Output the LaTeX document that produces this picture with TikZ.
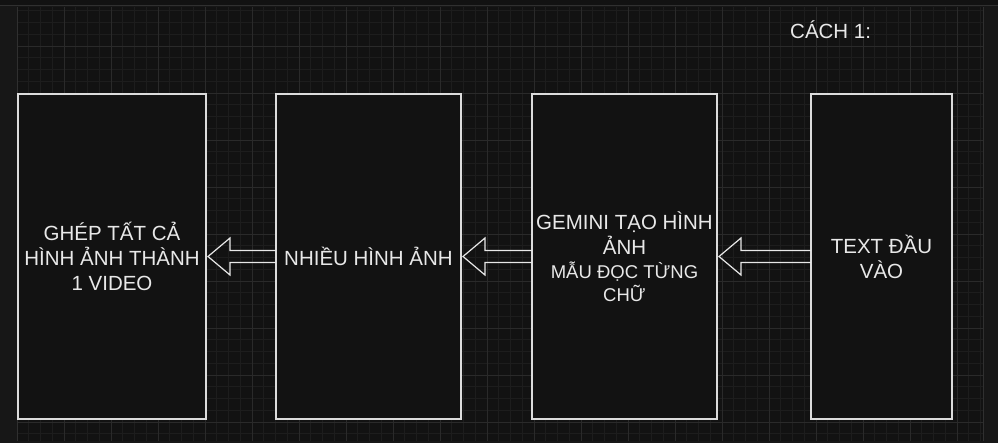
\documentclass[tikz,border=0pt]{standalone}
\usepackage{fontspec}
\setmainfont{Liberation Sans}
\usetikzlibrary{calc}
\definecolor{bgout}{HTML}{171717}
\definecolor{bgin}{HTML}{121212}
\definecolor{gminor}{HTML}{1D1D1D}
\definecolor{gmajor}{HTML}{2A2A2A}
\definecolor{gedge}{HTML}{303030}
\definecolor{fg}{HTML}{E8E8E8}
\definecolor{edge}{HTML}{DCDCDC}
\tikzset{
  stagebox/.style={draw=edge, line width=1.3pt, fill=bgin, minimum height=325pt,
    inner sep=0pt, outer sep=0pt, text=fg, align=center,
    font=\fontsize{20.5}{25}\selectfont},
  flexarrow/.style={draw=fg, line width=1.2pt, line join=miter},
  titletext/.style={text=fg, inner sep=0pt, font=\fontsize{20.5}{25}\selectfont},
}
\begin{document}
\begin{tikzpicture}[x=1pt,y=-1pt]
  \useasboundingbox (0,0) rectangle (998,443);
  % outer background
  \fill[bgout] (0,0) rectangle (998,443);
  \fill[bgin] (0,0) rectangle (998,6);
  \fill[bgin] (17,7) rectangle (983,441);
  % grid
  \begin{scope}
    \clip (17,7) rectangle (983,441);
    \foreach \i in {0,...,83} {
      \draw[gminor, line width=0.8pt] ({17+11.75*\i},7) -- ({17+11.75*\i},441);
    }
    \foreach \j in {0,...,38} {
      \draw[gminor, line width=0.8pt] (17,{-1+11.75*\j}) -- (983,{-1+11.75*\j});
    }
    \foreach \i in {0,...,21} {
      \draw[gmajor, line width=0.9pt] ({17+47*\i},7) -- ({17+47*\i},441);
    }
    \foreach \j in {0,...,10} {
      \draw[gmajor, line width=0.9pt] (17,{-1+47*\j}) -- (983,{-1+47*\j});
    }
  \end{scope}
  \draw[gedge, line width=1pt] (0,6) -- (998,6);
  \draw[gedge, line width=0.8pt] (17,7) -- (17,441);
  \draw[gedge, line width=0.8pt] (983,7) -- (983,441);

  % title
  \node[titletext, anchor=west] (title) at (790,30) {CÁCH 1:};

  % boxes
  \node[stagebox, minimum width=188pt] (b1) at (112,256.5)
    {GHÉP TẤT CẢ\\HÌNH ẢNH THÀNH\\1 VIDEO};
  \node[stagebox, minimum width=185pt] (b2) at (368.5,256.5)
    {NHIỀU HÌNH ẢNH};
  \node[stagebox, minimum width=185pt] (b3) at (624.5,256.5)
    {GEMINI TẠO HÌNH\\ẢNH\\[-1pt]\fontsize{18.5}{22}\selectfont MẪU ĐỌC TỪNG\\[-2pt]\fontsize{18.5}{22}\selectfont CHỮ};
  \node[stagebox, minimum width=141pt] (b4) at (881.5,256.5)
    {TEXT ĐẦU\\VÀO};

  % flex arrows
  \draw[flexarrow] ($(b4.west)+(0,-6)$) -- ($(b3.east)+(24,-6)$) -- ($(b3.east)+(24,-18.5)$)
    -- ($(b3.east)+(2,0)$) -- ($(b3.east)+(24,18.5)$) -- ($(b3.east)+(24,6)$) -- ($(b4.west)+(0,6)$);
  \draw[flexarrow] ($(b3.west)+(0,-6)$) -- ($(b2.east)+(24,-6)$) -- ($(b2.east)+(24,-18.5)$)
    -- ($(b2.east)+(2,0)$) -- ($(b2.east)+(24,18.5)$) -- ($(b2.east)+(24,6)$) -- ($(b3.west)+(0,6)$);
  \draw[flexarrow] ($(b2.west)+(0,-6)$) -- ($(b1.east)+(24,-6)$) -- ($(b1.east)+(24,-18.5)$)
    -- ($(b1.east)+(2,0)$) -- ($(b1.east)+(24,18.5)$) -- ($(b1.east)+(24,6)$) -- ($(b2.west)+(0,6)$);
\end{tikzpicture}
\end{document}
